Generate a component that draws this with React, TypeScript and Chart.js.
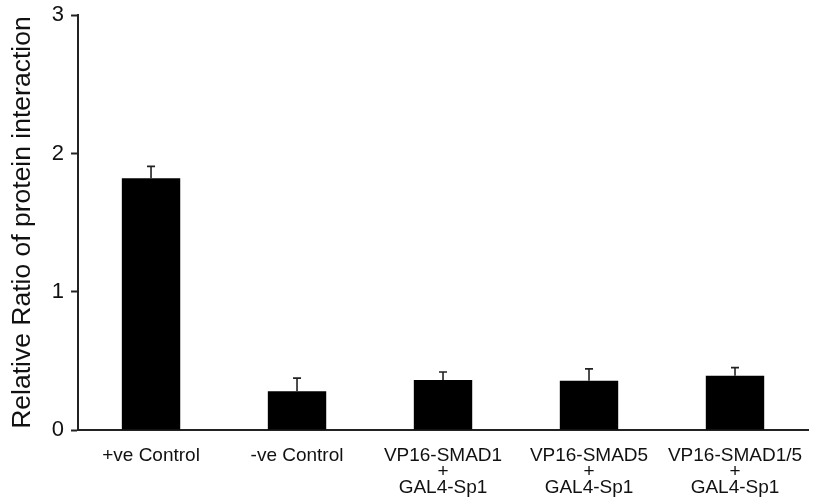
import React, { useEffect, useRef } from "react";
import { Chart, registerables } from "chart.js";

Chart.register(...registerables);

const categories: (string | string[])[] = [
  "+ve Control",
  "-ve Control",
  ["VP16-SMAD1", "+", "GAL4-Sp1"],
  ["VP16-SMAD5", "+", "GAL4-Sp1"],
  ["VP16-SMAD1/5", "+", "GAL4-Sp1"],
];
const ratioValues = [1.82, 0.28, 0.362, 0.357, 0.393];
const ratioErrors = [0.087, 0.095, 0.058, 0.085, 0.058];
const yTicks = [0, 1, 2, 3];
const yTitle = "Relative Ratio of protein interaction";

const FONT = "'Liberation Sans', Arial, Helvetica, sans-serif";

const errorBarPlugin = {
  id: "errorBars",
  afterDatasetsDraw(chart: any) {
    const { ctx, scales } = chart;
    const xs = scales.x;
    const ys = scales.y;
    ctx.save();
    ctx.strokeStyle = "#222";
    ctx.lineWidth = 1.6;
    ratioValues.forEach((v, i) => {
      const x = xs.getPixelForValue(i);
      const y0 = ys.getPixelForValue(v);
      const y1 = ys.getPixelForValue(v + ratioErrors[i]);
      ctx.beginPath();
      ctx.moveTo(x, y0);
      ctx.lineTo(x, y1);
      ctx.moveTo(x - 4, y1);
      ctx.lineTo(x + 4, y1);
      ctx.stroke();
    });
    ctx.restore();
  },
};

export default function App() {
  const ref = useRef<HTMLCanvasElement | null>(null);
  useEffect(() => {
    if (!ref.current) return;
    const chart = new Chart(ref.current, {
      type: "bar",
      data: {
        labels: categories as any,
        datasets: [
          {
            data: ratioValues,
            backgroundColor: "#000",
            borderWidth: 0,
            barPercentage: 0.4,
            categoryPercentage: 1,
          },
        ],
      },
      options: {
        responsive: false,
        animation: false,
        layout: { padding: { top: 2, right: 12, bottom: 4, left: 0 } },
        plugins: {
          legend: { display: false },
          tooltip: { enabled: false },
        },
        scales: {
          x: {
            grid: { display: false },
            border: { display: true, color: "#222", width: 2 },
            ticks: {
              color: "#111",
              padding: 10,
              maxRotation: 0,
              autoSkip: false,
              font: { family: FONT, size: 19, lineHeight: 0.842 },
            },
          },
          y: {
            min: 0,
            max: 3,
            afterBuildTicks: (axis: any) => {
              axis.ticks = yTicks.map((v) => ({ value: v }));
            },
            grid: {
              display: true,
              drawOnChartArea: false,
              drawTicks: true,
              tickLength: 7,
              tickColor: "#222",
              tickWidth: 2,
            },
            border: { display: true, color: "#222", width: 2 },
            ticks: {
              color: "#111",
              padding: 7,
              font: { family: FONT, size: 22 },
            },
            title: {
              display: true,
              text: yTitle,
              color: "#111",
              padding: { top: 7, bottom: 6 },
              font: { family: FONT, size: 26.5, lineHeight: 1.2 },
            },
          },
        },
      },
      plugins: [errorBarPlugin],
    });
    return () => chart.destroy();
  }, []);
  return (
    <div style={{ position: "absolute", left: 0, top: 0, width: 820, height: 498, overflow: "hidden", background: "#fff" }}>
      <canvas
        ref={ref}
        width={820}
        height={515}
        style={{ display: "block", position: "absolute", left: 0, top: -5 }}
      />
    </div>
  );
}
